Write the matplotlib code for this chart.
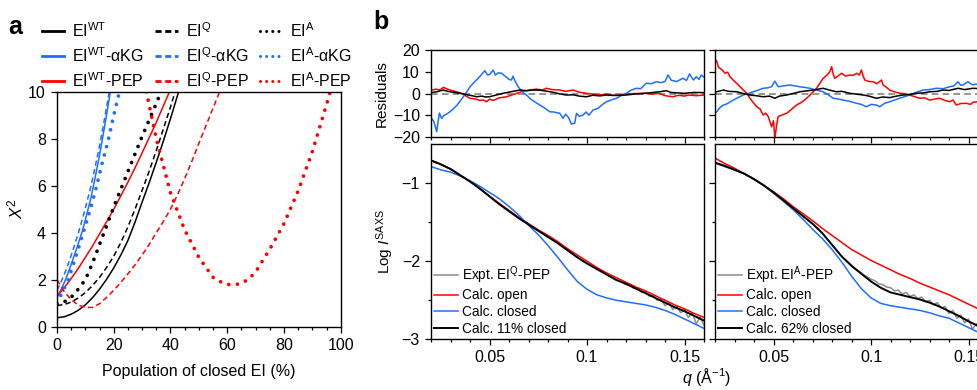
import matplotlib
matplotlib.use("Agg")
import matplotlib.pyplot as plt
import matplotlib.lines as mlines
from matplotlib.ticker import MultipleLocator, FixedLocator, FuncFormatter

plt.rcParams['font.family'] = ['Liberation Sans', 'DejaVu Sans']
plt.rcParams['mathtext.fontset'] = 'custom'
plt.rcParams['mathtext.rm'] = 'Liberation Sans'
plt.rcParams['mathtext.it'] = 'Liberation Sans:italic'
plt.rcParams['mathtext.bf'] = 'Liberation Sans:bold'
plt.rcParams['mathtext.sf'] = 'Liberation Sans'

BLUE = '#1f6eff'
RED = '#ff0000'
BLACK = '#000000'
GRAY = '#8c8c8c'
ZERO = '#8a8478'

# ---------------- panel a data ----------------
wt_x = [0, 2.5, 5, 7.5, 10, 12.5, 15, 17.5, 20, 22.5, 25, 27.5, 30, 32.5, 35, 37.5, 40, 42.5, 45]
wt_y = [0.38, 0.42, 0.53, 0.7, 0.93, 1.23, 1.6, 2.02, 2.5, 3.05, 3.67, 4.45, 5.3, 6.13, 7.0, 7.9, 8.85, 9.85, 10.9]
q_x = [0, 2.5, 5, 7.5, 10, 12.5, 15, 17.5, 20, 22.5, 25, 27.5, 30, 32.5, 35, 37.5, 40, 42.5, 45]
q_y = [0.9, 0.94, 1.05, 1.22, 1.45, 1.75, 2.1, 2.52, 3.0, 3.58, 4.25, 5.0, 5.8, 6.62, 7.5, 8.42, 9.35, 10.35, 11.4]
a_x = [0, 2.5, 5, 7.5, 10, 12.5, 15, 17.5, 20, 22.5, 25, 27.5, 30, 32.5, 35, 37]
a_y = [0.95, 1.05, 1.25, 1.6, 2.0, 2.7, 3.5, 4.3, 5.1, 5.85, 6.6, 7.35, 8.1, 8.8, 9.5, 10.1]
wtk_x = [0, 1.5, 3, 4.5, 6, 7.5, 9, 10.5, 12, 13.5, 15, 16.5, 18, 19.5]
wtk_y = [1.25, 1.6, 2.0, 2.48, 3.0, 3.53, 4.1, 4.78, 5.5, 6.38, 7.3, 8.33, 9.4, 10.5]
qk_x = [0, 1.5, 3, 4.5, 6, 7.5, 9, 10.5, 12, 13.5, 15, 16.5, 18, 19]
qk_y = [1.55, 1.93, 2.35, 2.86, 3.4, 3.98, 4.6, 5.28, 6.0, 6.83, 7.7, 8.68, 9.7, 10.4]
ak_x = [0, 2, 4, 6, 8, 10, 12, 14, 16, 18, 20, 22, 23]
ak_y = [1.0, 1.5, 2.0, 2.75, 3.5, 4.3, 5.1, 6.0, 7.0, 7.9, 9.0, 10.0, 10.5]
wtp_x = [0, 2.5, 5, 7.5, 10, 12.5, 15, 17.5, 20, 22.5, 25, 27.5, 30, 32.5, 35, 37.5, 40, 41]
wtp_y = [1.3, 1.65, 2.05, 2.48, 2.95, 3.43, 3.95, 4.47, 5.0, 5.57, 6.15, 6.76, 7.4, 8.04, 8.7, 9.4, 10.1, 10.4]
qp_x = [0, 2.5, 5, 7.5, 10, 12.5, 15, 17.5, 20, 22.5, 25, 27.5, 30, 32.5, 35, 37.5, 40, 42.5,
        45, 47.5, 50, 52.5, 55, 58]
qp_y = [2.0, 1.5, 1.15, 0.92, 0.82, 0.82, 0.98, 1.25, 1.55, 1.88, 2.25, 2.63, 3.05, 3.5, 4.0, 4.48, 5.0, 5.62,
        6.3, 7.03, 7.8, 8.55, 9.3, 10.2]
ap_x = [31.5, 35, 40, 45, 50, 55, 57.5, 60, 62.5, 65, 67.5, 70, 75, 80, 85, 90, 95, 96.5]
ap_y = [10.0, 8.0, 5.7, 4.12, 2.95, 2.1, 1.92, 1.8, 1.78, 1.85, 2.02, 2.33, 3.3, 4.38, 5.78, 7.45, 9.45, 10.1]

# ---------------- panel b data ----------------
q_grid = [0.020, 0.025, 0.030, 0.035, 0.040, 0.045, 0.050, 0.055, 0.060, 0.065,
          0.070, 0.075, 0.080, 0.085, 0.090, 0.095, 0.100, 0.105, 0.110, 0.115,
          0.120, 0.125, 0.130, 0.135, 0.140, 0.145, 0.150, 0.155, 0.160]
# EI^Q-PEP
L_open = [-0.71, -0.76, -0.82, -0.90, -0.98, -1.07, -1.17, -1.26, -1.35, -1.44,
          -1.52, -1.60, -1.67, -1.75, -1.84, -1.92, -2.00, -2.08, -2.15, -2.21,
          -2.27, -2.33, -2.38, -2.44, -2.50, -2.56, -2.61, -2.67, -2.72]
L_closed = [-0.79, -0.83, -0.86, -0.91, -0.97, -1.04, -1.12, -1.20, -1.30, -1.41,
            -1.54, -1.66, -1.80, -1.95, -2.11, -2.26, -2.36, -2.43, -2.47, -2.50,
            -2.52, -2.54, -2.56, -2.59, -2.63, -2.68, -2.74, -2.80, -2.86]
L_mix = [-0.71, -0.76, -0.82, -0.90, -0.98, -1.07, -1.17, -1.27, -1.36, -1.45,
         -1.53, -1.61, -1.69, -1.77, -1.86, -1.95, -2.03, -2.10, -2.17, -2.24,
         -2.29, -2.35, -2.41, -2.47, -2.53, -2.59, -2.64, -2.70, -2.76]
L_expt_q = [0.020, 0.025, 0.030, 0.035, 0.040, 0.045, 0.050, 0.055, 0.060, 0.065,
            0.070, 0.075, 0.080, 0.085, 0.090, 0.095, 0.100, 0.105, 0.110, 0.115,
            0.118, 0.120, 0.122, 0.124, 0.126, 0.128, 0.130, 0.132, 0.134, 0.136,
            0.138, 0.140, 0.142, 0.144, 0.146, 0.148, 0.150, 0.152, 0.154, 0.156,
            0.158, 0.160]
L_expt = [-0.71, -0.76, -0.82, -0.90, -0.98, -1.07, -1.17, -1.27, -1.36, -1.45,
          -1.53, -1.61, -1.69, -1.77, -1.86, -1.95, -2.03, -2.10, -2.17, -2.24,
          -2.27, -2.30, -2.30, -2.35, -2.34, -2.40, -2.39, -2.45, -2.44, -2.50,
          -2.49, -2.57, -2.53, -2.62, -2.58, -2.66, -2.62, -2.72, -2.66, -2.80,
          -2.72, -2.82]
# EI^A-PEP
A_open = [-0.68, -0.75, -0.81, -0.88, -0.95, -1.03, -1.11, -1.20, -1.30, -1.39,
          -1.48, -1.58, -1.67, -1.76, -1.85, -1.92, -1.99, -2.05, -2.11, -2.17,
          -2.22, -2.28, -2.33, -2.38, -2.43, -2.49, -2.55, -2.61, -2.67]
A_closed = [-0.74, -0.79, -0.83, -0.88, -0.95, -1.03, -1.13, -1.23, -1.34, -1.46,
            -1.59, -1.71, -1.85, -2.01, -2.19, -2.35, -2.47, -2.54, -2.57, -2.59,
            -2.61, -2.63, -2.66, -2.70, -2.73, -2.79, -2.85, -2.91, -2.97]
A_mix = [-0.74, -0.78, -0.83, -0.88, -0.95, -1.03, -1.12, -1.22, -1.32, -1.42,
         -1.52, -1.64, -1.79, -1.94, -2.06, -2.16, -2.26, -2.34, -2.40, -2.43,
         -2.46, -2.49, -2.53, -2.58, -2.64, -2.70, -2.77, -2.83, -2.90]
A_expt_q = [0.020, 0.025, 0.030, 0.035, 0.040, 0.045, 0.050, 0.055, 0.060, 0.065,
            0.070, 0.075, 0.080, 0.085, 0.090, 0.092, 0.094, 0.096, 0.098, 0.100,
            0.102, 0.104, 0.106, 0.108, 0.110, 0.112, 0.114, 0.116, 0.118, 0.120,
            0.122, 0.124, 0.126, 0.128, 0.130, 0.132, 0.134, 0.136, 0.138, 0.140,
            0.142, 0.144, 0.146, 0.148, 0.150, 0.152, 0.154, 0.156, 0.158, 0.160]
A_expt = [-0.74, -0.78, -0.83, -0.88, -0.95, -1.03, -1.12, -1.22, -1.32, -1.42,
          -1.52, -1.64, -1.79, -1.94, -2.05, -2.10, -2.13, -2.17, -2.20, -2.23,
          -2.25, -2.29, -2.30, -2.33, -2.34, -2.38, -2.37, -2.42, -2.40, -2.45,
          -2.43, -2.48, -2.46, -2.52, -2.50, -2.56, -2.53, -2.60, -2.58, -2.67,
          -2.63, -2.73, -2.69, -2.79, -2.74, -2.87, -2.80, -2.92, -2.86, -2.97]

# residuals, EI^Q-PEP
rQ_closed_q = [0.0200, 0.0215, 0.0229, 0.0243, 0.0255, 0.0265, 0.0280, 0.0297, 0.0315, 0.0332,
               0.0345, 0.0366, 0.0385, 0.0400, 0.0420, 0.0442, 0.0460, 0.0476, 0.0490, 0.0502,
               0.0519, 0.0530, 0.0545, 0.0562, 0.0580, 0.0600, 0.0613, 0.0620, 0.0635, 0.0647,
               0.0670, 0.0690, 0.0710, 0.0735, 0.0758, 0.0780, 0.0809, 0.0830, 0.0860, 0.0877,
               0.0890, 0.0905, 0.0920, 0.0937, 0.0946, 0.0960, 0.0980, 0.0995, 0.1010, 0.1031,
               0.1057, 0.1080, 0.1100, 0.1125, 0.1151, 0.1175, 0.1202, 0.1225, 0.1253, 0.1275,
               0.1304, 0.1330, 0.1356, 0.1380, 0.1400, 0.1415, 0.1432, 0.1460, 0.1492, 0.1510,
               0.1526, 0.1545, 0.1560, 0.1575, 0.1586, 0.1600]
rQ_closed = [-11.0, -13.0, -17.5, -9.0, -11.5, -10.2, -9.5, -8.4, -7.0, -5.5,
             -4.0, -1.5, 1.0, 3.1, 5.0, 7.0, 8.8, 10.5, 8.5, 8.8,
             10.8, 8.5, 9.5, 9.3, 8.0, 6.5, 6.2, 8.0, 5.0, 3.1,
             0.5, -0.7, -2.5, -4.0, -5.3, -6.5, -8.4, -8.5, -9.1, -11.4,
             -9.5, -11.0, -14.0, -13.7, -9.1, -10.5, -9.9, -8.5, -10.0, -7.6,
             -6.8, -5.0, -3.8, -3.0, -2.2, -1.0, 0.1, 1.5, 2.4, 2.2,
             4.7, 4.5, 5.4, 5.0, 5.5, 8.5, 6.1, 5.5, 7.0, 6.0,
             9.0, 6.2, 7.7, 6.5, 8.5, 7.5]
rQ_open_q = [0.0200, 0.0225, 0.0245, 0.0263, 0.0280, 0.0300, 0.0330, 0.0360, 0.0380, 0.0400,
             0.0430, 0.0450, 0.0468, 0.0485, 0.0500, 0.0519, 0.0550, 0.0588, 0.0610, 0.0640,
             0.0670, 0.0707, 0.0740, 0.0770, 0.0792, 0.0820, 0.0860, 0.0890, 0.0929, 0.0960,
             0.0997, 0.1030, 0.1065, 0.1100, 0.1130, 0.1168, 0.1200, 0.1250, 0.1304, 0.1340,
             0.1370, 0.1400, 0.1440, 0.1470, 0.1500, 0.1520, 0.1560, 0.1600]
rQ_open = [1.5, 2.0, 1.6, 2.8, 2.2, 1.5, 0.8, 0.0, -1.2, -2.2,
           -2.6, -3.2, -3.0, -3.8, -2.6, -3.2, -2.0, -1.5, -0.8, 0.1,
           1.0, 1.6, 2.0, 1.6, 2.4, 1.8, 1.6, 1.0, 1.6, 0.6,
           0.1, -0.3, -0.7, -0.3, -0.9, -0.7, -0.2, 0.0, 0.1, -0.3,
           0.1, -1.0, -1.5, -0.8, -1.2, -0.7, -1.0, -0.7]
rQ_mix_q = [0.0200, 0.0230, 0.0263, 0.0290, 0.0320, 0.0349, 0.0380, 0.0410, 0.0434, 0.0460,
            0.0480, 0.0500, 0.0530, 0.0570, 0.0610, 0.0656, 0.0690, 0.0724, 0.0760, 0.0790,
            0.0830, 0.0860, 0.0894, 0.0930, 0.0960, 0.0997, 0.1030, 0.1065, 0.1100, 0.1150,
            0.1200, 0.1250, 0.1300, 0.1350, 0.1380, 0.1406, 0.1430, 0.1460, 0.1500, 0.1550,
            0.1600]
rQ_mix = [0.4, 0.8, 1.6, 0.9, 0.5, 0.1, -0.5, -1.0, -1.5, -1.2,
          -1.6, -1.5, -0.8, 0.1, 0.8, 1.6, 1.3, 1.6, 1.5, 1.1,
          0.5, -0.2, -0.7, -0.6, -1.2, -1.5, -0.8, -1.1, -0.7, -0.9,
          -0.7, -0.2, 0.1, 0.6, 0.9, 1.3, 0.5, 0.3, 0.1, 0.5,
          0.4]

# residuals, EI^A-PEP
rA_open_q = [0.0200, 0.0209, 0.0218, 0.0226, 0.0240, 0.0251, 0.0265, 0.0277, 0.0295, 0.0311,
             0.0330, 0.0345, 0.0362, 0.0379, 0.0395, 0.0414, 0.0430, 0.0447, 0.0460, 0.0473,
             0.0482, 0.0490, 0.0500, 0.0507, 0.0516, 0.0524, 0.0540, 0.0567, 0.0590, 0.0618,
             0.0645, 0.0670, 0.0695, 0.0721, 0.0740, 0.0755, 0.0775, 0.0789, 0.0798, 0.0806,
             0.0814, 0.0830, 0.0849, 0.0870, 0.0891, 0.0910, 0.0926, 0.0940, 0.0951, 0.0960,
             0.0968, 0.0990, 0.1011, 0.1030, 0.1054, 0.1062, 0.1080, 0.1096, 0.1120, 0.1147,
             0.1170, 0.1198, 0.1225, 0.1250, 0.1275, 0.1301, 0.1330, 0.1352, 0.1380, 0.1403,
             0.1420, 0.1438, 0.1460, 0.1489, 0.1510, 0.1523, 0.1545, 0.1570, 0.1600]
rA_open = [15.5, 14.9, 12.0, 11.6, 10.5, 9.3, 9.8, 7.7, 6.0, 4.7,
           3.0, 1.6, 0.2, -2.2, -4.0, -6.1, -7.0, -9.9, -9.0, -10.6,
           -13.0, -15.3, -12.5, -20.6, -14.5, -10.6, -10.0, -9.1, -7.5, -5.3,
           -4.0, -2.2, 0.0, 2.4, 5.0, 7.0, 8.5, 10.0, 12.3, 9.0,
           7.0, 8.0, 9.3, 8.0, 8.5, 8.3, 9.3, 8.5, 10.8, 8.0,
           6.2, 5.5, 5.4, 4.5, 6.2, 3.9, 2.8, 1.6, 0.8, 0.1,
           0.0, -0.7, -1.5, -2.2, -2.0, -3.0, -2.5, -2.2, -3.2, -3.8,
           -3.0, -5.3, -4.6, -4.5, -5.0, -4.0, -3.8, -4.2, -4.0]
rA_closed_q = [0.0200, 0.0209, 0.0225, 0.0243, 0.0260, 0.0294, 0.0320, 0.0345, 0.0370, 0.0396,
               0.0420, 0.0447, 0.0470, 0.0490, 0.0507, 0.0524, 0.0550, 0.0584, 0.0610, 0.0635,
               0.0660, 0.0686, 0.0720, 0.0755, 0.0780, 0.0806, 0.0830, 0.0857, 0.0890, 0.0926,
               0.0950, 0.0977, 0.1000, 0.1028, 0.1045, 0.1070, 0.1096, 0.1120, 0.1147, 0.1170,
               0.1198, 0.1230, 0.1267, 0.1300, 0.1335, 0.1370, 0.1403, 0.1425, 0.1446, 0.1460,
               0.1472, 0.1497, 0.1520, 0.1540, 0.1570, 0.1600]
rA_closed = [-9.0, -8.4, -6.5, -5.3, -4.8, -3.0, -1.8, -0.7, 0.0, 0.8,
             1.5, 2.4, 2.6, 3.1, 5.7, 3.1, 3.5, 3.9, 3.5, 3.1,
             2.8, 2.4, 1.6, 0.8, -0.5, -2.2, -2.5, -3.0, -3.6, -4.5,
             -5.0, -6.1, -5.0, -5.3, -6.1, -4.5, -3.8, -3.0, -2.2, -1.5,
             -0.7, 0.5, 1.6, 1.8, 2.4, 2.2, 3.1, 3.5, 5.4, 3.8,
             3.9, 5.4, 4.0, 4.3, 4.0, 4.2]
rA_mix_q = [0.0200, 0.0209, 0.0243, 0.0270, 0.0311, 0.0345, 0.0379, 0.0410, 0.0447, 0.0480,
            0.0507, 0.0530, 0.0567, 0.0600, 0.0635, 0.0670, 0.0703, 0.0730, 0.0755, 0.0790,
            0.0823, 0.0850, 0.0891, 0.0925, 0.0960, 0.0990, 0.1028, 0.1060, 0.1096, 0.1130,
            0.1165, 0.1200, 0.1233, 0.1270, 0.1301, 0.1340, 0.1369, 0.1400, 0.1446, 0.1480,
            0.1523, 0.1560, 0.1600]
rA_mix = [0.5, 0.8, 1.6, 1.0, 0.8, 0.0, -0.7, -1.0, -1.5, -1.2,
          -2.2, -1.2, -0.7, 0.0, 0.8, 1.2, 1.6, 2.0, 2.4, 1.5,
          0.8, 1.0, 0.1, -0.3, -0.7, -1.2, -2.2, -1.6, -1.9, -1.2,
          -0.7, -0.4, 0.1, 0.3, 0.8, 1.0, 1.6, 1.4, 2.4, 1.8,
          2.4, 2.2, 2.3]

panel_a_labels = [r'EI$^{\mathrm{WT}}$', r'EI$^{\mathrm{WT}}$-αKG', r'EI$^{\mathrm{WT}}$-PEP',
                  r'EI$^{\mathrm{Q}}$', r'EI$^{\mathrm{Q}}$-αKG', r'EI$^{\mathrm{Q}}$-PEP',
                  r'EI$^{\mathrm{A}}$', r'EI$^{\mathrm{A}}$-αKG', r'EI$^{\mathrm{A}}$-PEP']

W, H = 977, 390
fig = plt.figure(figsize=(W / 100, H / 100), dpi=100)


def box(l, t, r, b):
    return [l / W, (H - b) / H, (r - l) / W, (b - t) / H]


def style(ax):
    for s in ax.spines.values():
        s.set_linewidth(1.0)
    ax.tick_params(which='both', direction='out', width=0.9, labelsize=11.5)
    ax.tick_params(which='major', length=4.5)
    ax.tick_params(which='minor', length=2.5)


# ---------------- panel a ----------------
axa = fig.add_axes(box(57, 91.7, 340.7, 326.7))
style(axa)
dot = (0, (0.01, 2.3))
dash = (0, (3.5, 2.2))
lw = 1.1
dlw = 2.7
axa.plot(wt_x, wt_y, color=BLACK, lw=lw)
axa.plot(wtk_x, wtk_y, color=BLUE, lw=lw)
axa.plot(wtp_x, wtp_y, color=RED, lw=lw)
axa.plot(q_x, q_y, color=BLACK, lw=lw, linestyle=dash)
axa.plot(qk_x, qk_y, color=BLUE, lw=lw, linestyle=dash)
axa.plot(qp_x, qp_y, color=RED, lw=lw, linestyle=dash)
for xs, ys, c in [(a_x, a_y, BLACK), (ak_x, ak_y, BLUE), (ap_x, ap_y, RED)]:
    axa.plot(xs, ys, color=c, lw=dlw, linestyle=dot, dash_capstyle='round')
axa.set_xlim(0, 100)
axa.set_ylim(0, 10)
axa.xaxis.set_major_locator(MultipleLocator(20))
axa.xaxis.set_minor_locator(MultipleLocator(5))
axa.yaxis.set_major_locator(MultipleLocator(2))
axa.set_xlabel('Population of closed EI (%)', fontsize=11.5, labelpad=8)
axa.set_ylabel(r'$\mathit{X}^2$', fontsize=12, labelpad=2)

lh = []
styles = [('-', BLACK), ('-', BLUE), ('-', RED), ('d', BLACK), ('d', BLUE), ('d', RED),
          ('o', BLACK), ('o', BLUE), ('o', RED)]
for ls, c in styles:
    if ls == 'o':
        lh.append(mlines.Line2D([], [], color=c, lw=2.2, linestyle=(0, (0.01, 2.0)), dash_capstyle='round'))
    elif ls == 'd':
        lh.append(mlines.Line2D([], [], color=c, lw=2.0, linestyle=(0, (2.2, 1.3))))
    else:
        lh.append(mlines.Line2D([], [], color=c, lw=2.0))
fig.legend(lh, panel_a_labels, ncol=3, loc='upper left', bbox_to_anchor=(42 / W, 1 - 21 / H),
           frameon=False, fontsize=11.5, handlelength=1.4, handletextpad=0.5,
           columnspacing=0.7, labelspacing=0.4, borderaxespad=0, borderpad=0)

fig.text(8 / W, 1 - 27 / H, 'a', fontsize=18, fontweight='bold', va='center', ha='left')
fig.text(373 / W, 1 - 22 / H, 'b', fontsize=18, fontweight='bold', va='center', ha='left')


# ---------------- panel b ----------------
def resid_ax(left, show_labels):
    ax = fig.add_axes(box(left, 50, left + 273, 137))
    style(ax)
    ax.set_xlim(0.02, 0.16)
    ax.set_ylim(-20, 20)
    ax.xaxis.set_major_locator(FixedLocator([0.05, 0.1, 0.15]))
    ax.xaxis.set_minor_locator(MultipleLocator(0.01))
    ax.yaxis.set_major_locator(MultipleLocator(10))
    ax.tick_params(axis='x', labelbottom=False)
    if not show_labels:
        ax.tick_params(axis='y', labelleft=False)
    return ax


def saxs_ax(left, show_labels):
    ax = fig.add_axes(box(left, 144, left + 273, 339.3))
    style(ax)
    ax.set_xlim(0.02, 0.16)
    ax.set_ylim(-3, -0.5)
    ax.xaxis.set_major_locator(FixedLocator([0.05, 0.1, 0.15]))
    ax.xaxis.set_minor_locator(MultipleLocator(0.01))
    ax.xaxis.set_major_formatter(FuncFormatter(lambda v, p: '%g' % round(v, 3)))
    ax.yaxis.set_major_locator(FixedLocator([-3, -2, -1]))
    ax.yaxis.set_minor_locator(FixedLocator([-2.5, -1.5]))
    ax.yaxis.set_major_formatter(FuncFormatter(lambda v, p: '\u2212%d' % abs(v)))
    if not show_labels:
        ax.tick_params(axis='y', labelleft=False)
    return ax


rlw = 1.1
r1 = resid_ax(431, True)
r1.axhline(0, color=ZERO, lw=1.2, linestyle=(0, (4, 2.5)))
r1.plot(rQ_open_q, rQ_open, color=RED, lw=rlw)
r1.plot(rQ_closed_q, rQ_closed, color=BLUE, lw=rlw)
r1.plot(rQ_mix_q, rQ_mix, color=BLACK, lw=rlw)
r1.set_ylabel('Residuals', fontsize=11, labelpad=3)

r2 = resid_ax(715, False)
r2.axhline(0, color=ZERO, lw=1.2, linestyle=(0, (4, 2.5)))
r2.plot(rA_closed_q, rA_closed, color=BLUE, lw=rlw)
r2.plot(rA_open_q, rA_open, color=RED, lw=rlw)
r2.plot(rA_mix_q, rA_mix, color=BLACK, lw=rlw)

s1 = saxs_ax(431, True)
s1.plot(L_expt_q, L_expt, color=GRAY, lw=1.1, label=r'Expt. EI$^{\mathrm{Q}}$-PEP')
s1.plot(q_grid, L_open, color=RED, lw=rlw, label='Calc. open')
s1.plot(q_grid, L_closed, color=BLUE, lw=rlw, label='Calc. closed')
s1.plot(q_grid, L_mix, color=BLACK, lw=1.4, label='Calc. 11% closed')
s1.set_ylabel(r'Log $\mathit{I}^{\mathrm{SAXS}}$', fontsize=11, labelpad=4)
s1.legend(loc='lower left', frameon=False, fontsize=9.8, handlelength=1.75, handletextpad=0.3,
          labelspacing=0.2, borderaxespad=0.15, borderpad=0.1)

s2 = saxs_ax(715, False)
s2.plot(A_expt_q, A_expt, color=GRAY, lw=1.1, label=r'Expt. EI$^{\mathrm{A}}$-PEP')
s2.plot(q_grid, A_open, color=RED, lw=rlw, label='Calc. open')
s2.plot(q_grid, A_closed, color=BLUE, lw=rlw, label='Calc. closed')
s2.plot(q_grid, A_mix, color=BLACK, lw=1.4, label='Calc. 62% closed')
s2.legend(loc='lower left', frameon=False, fontsize=9.8, handlelength=1.75, handletextpad=0.3,
          labelspacing=0.2, borderaxespad=0.15, borderpad=0.1)

fig.text(707 / W, 1 - 377 / H, r'$\mathit{q}$ (Å$^{-1}$)', fontsize=11.5, ha='center', va='center')

fig.savefig('out.png', dpi=100)
